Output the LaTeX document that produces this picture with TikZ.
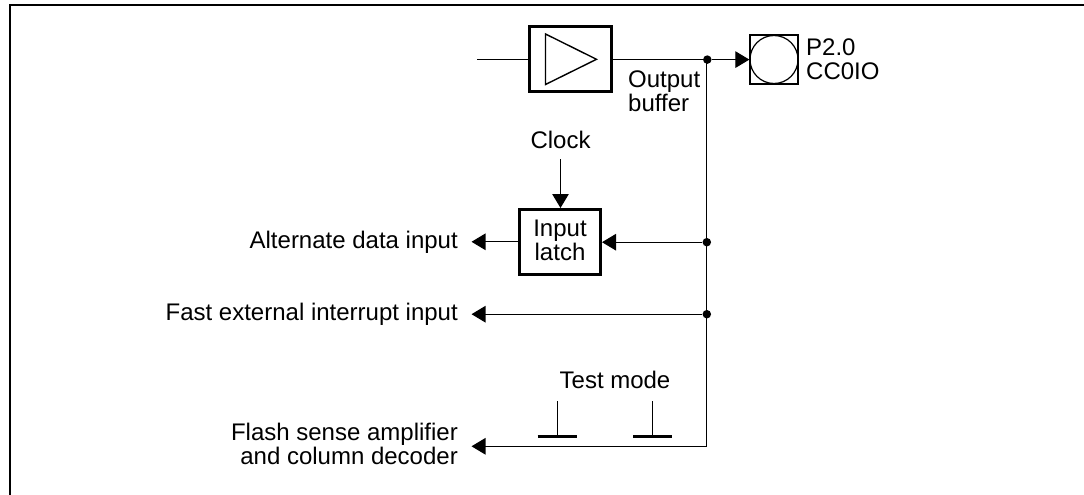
\documentclass[tikz,border=0pt]{standalone}
\usepackage{fontspec}
\setmainfont{Liberation Sans}
\usetikzlibrary{arrows.meta}
\tikzset{
  x=1pt,y=-1pt,
  wire/.style={line width=1.1pt},
  arrowwire/.style={wire,-{Triangle[length=14pt,width=16.5pt]}},
  thickbox/.style={draw,line width=3pt,fill=white,inner sep=0pt},
  dotnode/.style={circle,fill=black,inner sep=0pt,minimum size=8.5pt},
  lbl/.style={font=\fontsize{24}{23.5}\selectfont,inner sep=0pt,align=left,text=black},
  lblr/.style={lbl,anchor=east,align=right},
  contact/.style={line width=3pt},
}
\begin{document}
\begin{tikzpicture}
\useasboundingbox (0,0) rectangle (1084,495);
% frame
\draw[line width=2.1pt] (10.3,495) -- (10.3,5) -- (1084,5);
% boxes
\node[thickbox,minimum width=82pt,minimum height=65pt] (buf) at (570.3,59) {};
\node[thickbox,minimum width=81pt,minimum height=65pt] (latch) at (560,242) {};
\node[lbl,align=center] at (560,240.5) {Input\\latch};
\draw[line width=1.4pt] (545.5,34) -- (596.5,59.3) -- (545.5,84.5) -- cycle;
% pad
\node[draw,line width=1.7pt,minimum size=48.5pt,inner sep=0pt] (padbox) at (774,59.5) {};
\node[draw,circle,line width=1.2pt,minimum size=48pt,inner sep=0pt] (pad) at (774,59.5) {};
% junctions
\node[dotnode] (j1) at (707.3,59.6) {};
\node[dotnode] (j2) at (706.8,242.2) {};
\node[dotnode] (j3) at (706.8,314.2) {};
\coordinate (corner) at (706.8,446.3);
% wires
\coordinate (in) at (477,59.4);
\draw[wire] (in) -- (in -| buf.west);
\draw[wire] (buf.east |- j1) -- (j1);
\draw[arrowwire] (j1) -- (pad.west |- j1);
\draw[wire,line cap=rect] (corner |- j1) -- (corner);
\draw[arrowwire] (j2) -- (latch.east |- j2);
\coordinate (altend) at (471.5,241.8);
\draw[arrowwire] (latch.west |- altend) -- (altend);
\coordinate (fastend) at (471.5,314.2);
\draw[arrowwire] (j3) -- (fastend);
\coordinate (flashend) at (471.5,446.3);
\draw[arrowwire] (corner) -- (flashend);
\coordinate (clk) at (560.5,159);
\draw[arrowwire] (clk) -- (clk |- latch.north);
% test-mode contacts
\coordinate (c1t) at (557.3,401); \coordinate (c1b) at (557.3,436);
\coordinate (c2t) at (652.3,401); \coordinate (c2b) at (652.3,436);
\draw[wire] (c1t) -- (c1b);
\draw[wire] (c2t) -- (c2b);
\draw[contact] (537.7,436.3) -- (577,436.3);
\draw[contact] (633,436.3) -- (672,436.3);
% labels
\node[lbl,anchor=west] (t1) at (628,91) {Output\\buffer};
\node[lbl,anchor=west] (t2) at (806,59) {P2.0\\CC0IO};
\node[lbl,anchor=center] (t3) at (560.5,140) {Clock};
\node[lblr] (t4) at (458,242) {Alternate data input};
\node[lblr] (t5) at (458,314) {Fast external interrupt input};
\node[lblr] (t6) at (458,444) {Flash sense amplifier\\and column decoder};
\node[lbl,anchor=center] (t7) at (615,379.5) {Test mode};
\end{tikzpicture}
\end{document}
